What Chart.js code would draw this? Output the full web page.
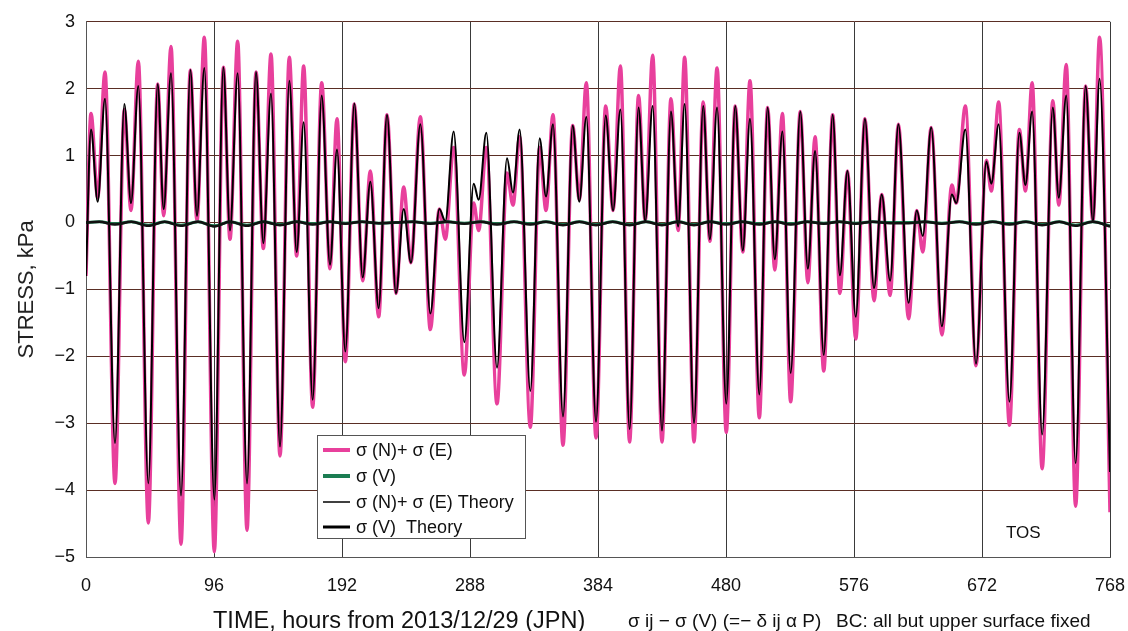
<!DOCTYPE html>
<html lang="en">

<head>
    <meta charset="UTF-8" />
    <title>TOS Stress</title>
    <script src="https://cdn.jsdelivr.net/npm/chart.js"></script>
    <style>
        html, body { margin: 0; padding: 0; background: #fff; }
        #wrap { width: 1128px; height: 631px; }
    </style>
</head>

<body>
    <div id="wrap"><canvas id="stressChart" width="1128" height="631"></canvas></div>

    <script>
        // hours of each peak / trough
        const hours = [0, 3.75, 8.75, 14.25, 21.75, 28.75, 33.75, 39.25, 46.75, 53.75, 58.25, 63.75, 71.25, 78.25, 83.25, 88.75, 96.25, 103, 108, 113.75, 120.75, 127.5, 133, 138.75, 145.5, 152.5, 158, 163.25, 170, 176.75, 183, 188.25, 194.5, 201.25, 207.5, 213.25, 219.5, 225.75, 232.5, 238.25, 243.75, 250.75, 258.25, 265, 269.5, 275.75, 283.75, 290.75, 294.5, 300.25, 308.25, 315.75, 320.25, 325.25, 333.25, 340.25, 345, 350.25, 357.75, 365, 370, 375.25, 382.5, 389.75, 395.3, 400.8, 407.7, 414.4, 419.4, 425, 432, 438.7, 444.1, 449, 456, 462.9, 467.9, 473.3, 480.2, 486.9, 492.6, 498, 505, 511.2, 516.6, 522.3, 528.5, 535.7, 541.4, 546.8, 553.3, 560, 565.4, 571.1, 577.3, 584.2, 591, 596.8, 603.1, 609.3, 616.9, 623.1, 627.6, 633.9, 641.9, 649.4, 652.7, 659.5, 667.5, 675.3, 679, 684.5, 692.6, 700, 704.6, 709.6, 717.1, 725.1, 729.6, 735.2, 742.2, 749.7, 755.2, 760.2, 768];

        // sigma(N)+sigma(E), measured (pink)
        const measuredNE = [-0.8, 1.63, 0.37, 2.25, -3.9, 1.69, 0.18, 2.41, -4.49, 2.07, 0.1, 2.63, -4.81, 2.28, 0.02, 2.77, -4.92, 2.32, -0.25, 2.71, -4.6, 2.25, -0.39, 2.52, -3.49, 2.47, -0.5, 2.34, -2.76, 2.09, -0.69, 1.55, -2.08, 1.77, -0.87, 0.77, -1.41, 1.61, -1.06, 0.53, -0.6, 1.58, -1.6, 0.2, -0.25, 1.12, -2.28, 0.29, -0.12, 1.12, -2.71, 0.74, 0.26, 1.28, -3.06, 1.12, 0.18, 1.61, -3.33, 1.45, 0.34, 2.09, -3.22, 1.74, 0.18, 2.34, -3.28, 1.9, 0.02, 2.5, -3.28, 1.85, -0.12, 2.47, -3.28, 1.8, -0.28, 2.31, -3.14, 1.74, -0.44, 2.12, -2.92, 1.72, -0.71, 1.63, -2.68, 1.66, -0.9, 1.28, -2.22, 1.61, -1.06, 0.77, -1.74, 1.55, -1.17, 0.42, -1.09, 1.47, -1.44, 0.18, -0.44, 1.42, -1.68, 0.56, 0.29, 1.74, -2.14, 0.93, 0.47, 1.8, -3.03, 1.39, 0.47, 2.09, -3.68, 1.82, 0.26, 2.36, -4.24, 2.04, 0.02, 2.77, -4.33];

        // sigma(N)+sigma(E), theory (thin black)
        const theoryNE = [-0.8, 1.39, 0.31, 1.85, -3.3, 1.77, 0.29, 2.04, -3.9, 2.07, 0.2, 2.23, -4.08, 2.28, 0.1, 2.31, -4.14, 2.32, -0.12, 2.23, -3.9, 2.25, -0.31, 1.93, -3.35, 2.12, -0.44, 1.5, -2.65, 1.9, -0.63, 1.09, -1.93, 1.78, -0.82, 0.61, -1.28, 1.61, -1.06, 0.2, -0.6, 1.47, -1.36, 0.2, 0.02, 1.36, -1.79, 0.58, 0.34, 1.34, -2.17, 0.96, 0.45, 1.39, -2.52, 1.26, 0.39, 1.47, -2.9, 1.45, 0.31, 1.58, -2.98, 1.6, 0.18, 1.69, -3.09, 1.72, 0.02, 1.74, -3.11, 1.66, -0.06, 1.77, -3.0, 1.74, -0.25, 1.72, -2.71, 1.74, -0.42, 1.55, -2.57, 1.72, -0.55, 1.36, -2.25, 1.66, -0.69, 1.07, -1.98, 1.61, -0.79, 0.77, -1.41, 1.55, -0.98, 0.42, -0.87, 1.47, -1.2, 0.18, -0.2, 1.42, -1.55, 0.42, 0.29, 1.39, -2.11, 0.91, 0.58, 1.47, -2.68, 1.34, 0.56, 1.66, -3.17, 1.72, 0.37, 1.9, -3.6, 2.04, 0.02, 2.15, -3.73];

        // sigma(V) series, close to zero
        const vHours = [0, 10, 21.75, 34, 46.75, 59, 71.25, 84, 96.25, 108, 120.75, 133, 145.5, 158, 170, 183, 194.5, 207, 219.5, 232.5, 245, 258.25, 271, 283.75, 296, 308.25, 321, 333.25, 345, 357.75, 370, 382.5, 395, 407.7, 420, 432, 444, 456, 468, 480.2, 492, 505, 517, 528.5, 541, 553.3, 565, 577.3, 590, 603.1, 616.9, 629, 641.9, 655, 667.5, 680, 692.6, 705, 717.1, 730, 742.2, 755, 768];
        const measuredV = [0.0, 0.01, -0.02, 0.01, -0.04, 0.01, -0.04, 0.01, -0.05, 0.01, -0.04, 0.01, -0.03, 0.01, -0.02, 0.01, -0.01, 0.01, -0.01, 0.0, 0.01, -0.01, 0.01, -0.01, 0.01, -0.02, 0.01, -0.02, 0.01, -0.03, 0.01, -0.03, 0.01, -0.03, 0.01, -0.03, 0.01, -0.03, 0.01, -0.02, 0.01, -0.02, 0.01, -0.02, 0.01, -0.01, 0.01, -0.01, 0.01, 0.0, 0.0, 0.01, -0.01, 0.01, -0.02, 0.01, -0.02, 0.01, -0.03, 0.01, -0.04, 0.01, -0.05];
        const theoryV = [0.0, 0.01, -0.03, 0.01, -0.05, 0.01, -0.05, 0.01, -0.06, 0.01, -0.05, 0.01, -0.04, 0.01, -0.03, 0.01, -0.02, 0.01, -0.01, 0.0, 0.01, -0.02, 0.01, -0.02, 0.01, -0.03, 0.01, -0.03, 0.01, -0.04, 0.01, -0.04, 0.01, -0.04, 0.01, -0.04, 0.01, -0.04, 0.01, -0.03, 0.01, -0.03, 0.01, -0.03, 0.01, -0.02, 0.01, -0.02, 0.01, -0.01, -0.01, 0.01, -0.02, 0.01, -0.03, 0.01, -0.03, 0.01, -0.04, 0.01, -0.05, 0.01, -0.06];

        const xTicks = [0, 96, 192, 288, 384, 480, 576, 672, 768];

        if (hours.length !== measuredNE.length || hours.length !== theoryNE.length ||
            vHours.length !== measuredV.length || vHours.length !== theoryV.length) {
            throw new Error("length mismatch " + [hours.length, measuredNE.length, theoryNE.length, vHours.length, measuredV.length, theoryV.length]);
        }

        const pts = (xs, ys) => xs.map((x, i) => ({ x: x, y: ys[i] }));

        const FONT = "'Liberation Sans', Arial, sans-serif";
        const PINK = "#e8409c";
        const GREEN = "#1b7d52";

        const legendItems = [
            { label: "σ (N)+ σ (E)", color: PINK, width: 4 },
            { label: "σ (V)", color: GREEN, width: 4 },
            { label: "σ (N)+ σ (E) Theory", color: "#000", width: 1.5 },
            { label: "σ (V)  Theory", color: "#000", width: 3 }
        ];

        // white legend box inside the plot
        const legendBox = {
            id: "legendBox",
            afterDatasetsDraw(chart) {
                const ctx = chart.ctx;
                ctx.save();
                ctx.fillStyle = "#fff";
                ctx.fillRect(317, 435, 208, 103);
                ctx.strokeStyle = "#555";
                ctx.lineWidth = 1;
                ctx.strokeRect(317.5, 435.5, 208, 103);
                ctx.font = "18px " + FONT;
                ctx.textBaseline = "middle";
                const rows = [450, 476, 502, 527];
                legendItems.forEach((it, i) => {
                    ctx.strokeStyle = it.color;
                    ctx.lineWidth = it.width;
                    ctx.beginPath();
                    ctx.moveTo(323, rows[i]);
                    ctx.lineTo(350, rows[i]);
                    ctx.stroke();
                    ctx.fillStyle = "#111";
                    ctx.fillText(it.label, 356, rows[i] + 1, 164);
                });
                ctx.font = "17px " + FONT;
                ctx.fillText("TOS", 1006, 533);
                ctx.restore();
            }
        };

        // captions under the x axis
        const bottomText = {
            id: "bottomText",
            afterDraw(chart) {
                const ctx = chart.ctx;
                ctx.save();
                ctx.fillStyle = "#111";
                ctx.textBaseline = "alphabetic";
                ctx.font = "23.5px " + FONT;
                ctx.fillText("TIME, hours from 2013/12/29 (JPN)", 213, 628);
                ctx.font = "19px " + FONT;
                ctx.fillText("σ ij − σ (V) (=− δ ij α P)", 628, 627);
                ctx.fillText("BC: all but upper surface fixed", 836, 627);
                ctx.restore();
            }
        };

        new Chart(document.getElementById("stressChart"), {
            type: "line",
            data: {
                datasets: [
                    {
                        label: "σ(N)+σ(E)",
                        data: pts(hours, measuredNE),
                        borderColor: PINK,
                        borderWidth: 3.5,
                        order: 4
                    },
                    {
                        label: "σ(V)",
                        data: pts(vHours, measuredV),
                        borderColor: GREEN,
                        borderWidth: 3,
                        order: 3
                    },
                    {
                        label: "σ(N)+σ(E) Theory",
                        data: pts(hours, theoryNE),
                        borderColor: "#000",
                        borderWidth: 2,
                        order: 2
                    },
                    {
                        label: "σ(V)  Theory",
                        data: pts(vHours, theoryV),
                        borderColor: "#111",
                        borderWidth: 2.5,
                        order: 1
                    }
                ]
            },
            options: {
                responsive: false,
                devicePixelRatio: 1,
                animation: false,
                layout: { padding: { top: 19, right: 18, left: 0, bottom: 0 } },
                elements: {
                    point: { radius: 0 },
                    line: { cubicInterpolationMode: "monotone", fill: false }
                },
                plugins: {
                    legend: { display: false },
                    tooltip: { enabled: false }
                },
                scales: {
                    x: {
                        type: "linear",
                        min: 0,
                        max: 768,
                        afterBuildTicks: (s) => { s.ticks = xTicks.map(v => ({ value: v })); },
                        afterFit: (s) => { s.height = 74; s.paddingRight = 0; s.paddingLeft = 0; },
                        ticks: { font: { size: 18, family: FONT }, color: "#111", padding: 18, maxRotation: 0 },
                        grid: { color: "#3a3a3a", lineWidth: 1, drawTicks: false },
                        border: { color: "#555" }
                    },
                    y: {
                        min: -5,
                        max: 3,
                        afterFit: (s) => { s.width = 86; },
                        ticks: {
                            stepSize: 1,
                            font: { size: 18, family: FONT },
                            color: "#111",
                            padding: 11,
                            callback: v => (v < 0 ? "−" + Math.abs(v) : String(v))
                        },
                        grid: { color: "#5a2e24", lineWidth: 1, drawTicks: false },
                        border: { color: "#555" },
                        title: {
                            display: true,
                            text: "STRESS, kPa",
                            font: { size: 22, family: FONT },
                            color: "#222",
                            padding: { top: 14, bottom: 0 }
                        }
                    }
                }
            },
            plugins: [legendBox, bottomText]
        });
    </script>
</body>

</html>
